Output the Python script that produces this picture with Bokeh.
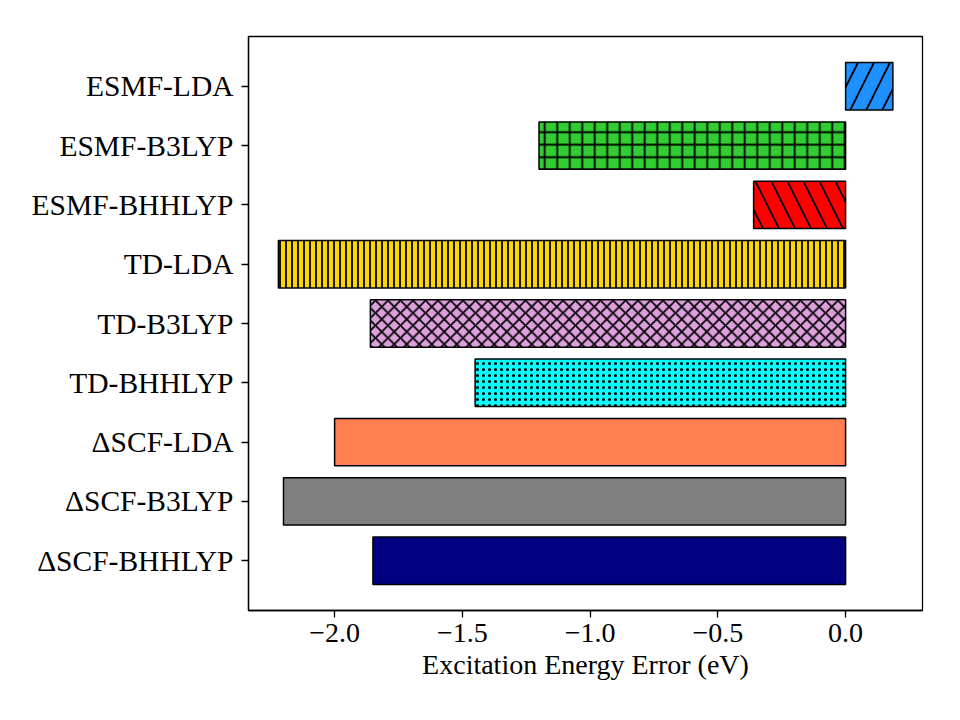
from bokeh.plotting import figure
from bokeh.models import Range1d, FixedTicker, ColumnDataSource
from bokeh.embed import file_html
from bokeh.resources import INLINE

# Data (bottom to top)
methods = ["ΔSCF-BHHLYP", "ΔSCF-B3LYP", "ΔSCF-LDA", "TD-BHHLYP", "TD-B3LYP",
           "TD-LDA", "ESMF-BHHLYP", "ESMF-B3LYP", "ESMF-LDA"]
errors = [-1.85, -2.20, -2.00, -1.45, -1.86, -2.22, -0.36, -1.20, 0.185]
colors = ["navy", "gray", "coral", "cyan", "plum", "gold", "red", "limegreen", "dodgerblue"]
hatches = [" ", " ", " ", "dot", "diagonal_cross", "vertical_line",
           "left_diagonal_line", "cross", "right_diagonal_line"]
hatch_scales = [12, 12, 12, 6, 12.5, 6, 32, 12.5, 32]
x_ticks = [-2.0, -1.5, -1.0, -0.5, 0.0]
x_tick_labels = ["−2.0", "−1.5", "−1.0", "−0.5", "0.0"]

ypos = list(range(len(methods)))
src = ColumnDataSource(dict(y=ypos, right=errors, color=colors, hatch=hatches, hs=hatch_scales))

p = figure(width=960, height=720, output_backend="svg", toolbar_location=None,
           x_range=Range1d(-2.337, 0.301), y_range=Range1d(-0.84, 8.84),
           min_border_left=248, min_border_right=38, min_border_top=36, min_border_bottom=110)
p.hbar(y="y", left=0, right="right", height=0.8, source=src, fill_color="color",
       line_color="black", line_width=1.5, hatch_pattern="hatch", hatch_color="black",
       hatch_scale="hs", hatch_weight=1.8)

font = "Liberation Serif"
p.xaxis.ticker = FixedTicker(ticks=x_ticks)
p.xaxis.major_label_overrides = {t: l for t, l in zip(x_ticks, x_tick_labels)}
p.yaxis.ticker = FixedTicker(ticks=ypos)
p.yaxis.major_label_overrides = {i: m for i, m in zip(ypos, methods)}
p.xaxis.axis_label = "Excitation Energy Error (eV)"
for ax in (p.xaxis, p.yaxis):
    ax.major_label_text_font = font
    ax.major_label_text_font_size = "28px"
    ax.axis_label_text_font = font
    ax.axis_label_text_font_size = "28px"
    ax.axis_label_text_font_style = "normal"
    ax.axis_label_text_color = "black"
    ax.major_tick_out = 7
    ax.major_tick_in = 0
    ax.minor_tick_line_color = None
    ax.axis_line_color = "black"
    ax.axis_line_width = 1.3
    ax.major_tick_line_width = 1.3
    ax.major_label_text_color = "black"
p.yaxis.major_label_text_font_size = "29.5px"
p.xaxis.axis_label_standoff = 4
p.xaxis.major_label_standoff = 6
p.yaxis.major_label_standoff = 8
p.xgrid.grid_line_color = None
p.ygrid.grid_line_color = None
p.outline_line_color = "black"
p.outline_line_width = 1.3
p.outline_line_alpha = 1.0

open("out.html", "w").write(file_html(p, INLINE))
